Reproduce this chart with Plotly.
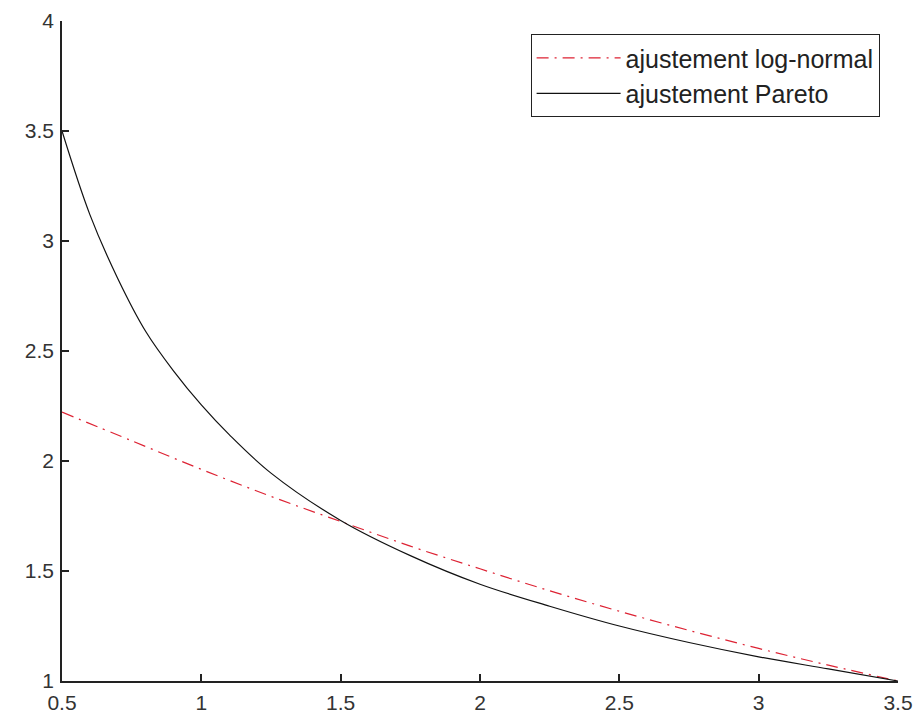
import plotly.graph_objects as go

# Log-normal fit
x_lognormal = [0.5, 0.75, 1.0, 1.25, 1.5, 1.75, 2.0, 2.25, 2.5, 2.75, 3.0, 3.25, 3.5]
y_lognormal = [2.222, 2.092, 1.962, 1.839, 1.725, 1.613, 1.510, 1.410, 1.317, 1.230, 1.148, 1.072, 1.0]

# Pareto fit
x_pareto = [0.5, 0.6, 0.7, 0.8, 0.9, 1.0, 1.1, 1.25, 1.5, 1.75, 2.0, 2.25, 2.5, 2.75, 3.0, 3.25, 3.5]
y_pareto = [3.5, 3.12, 2.83, 2.59, 2.41, 2.255, 2.12, 1.945, 1.73, 1.57, 1.44, 1.34, 1.25, 1.175, 1.11, 1.055, 1.0]

x_ticks = [0.5, 1, 1.5, 2, 2.5, 3, 3.5]
x_ticklabels = ["0.5", "1", "1.5", "2", "2.5", "3", "3.5"]
y_ticks = [1, 1.5, 2, 2.5, 3, 3.5, 4]
y_ticklabels = ["1", "1.5", "2", "2.5", "3", "3.5", "4"]

FONT = "Liberation Sans, Arial, sans-serif"

fig = go.Figure()
fig.add_trace(go.Scatter(
    x=x_lognormal, y=y_lognormal, mode="lines", name="ajustement log-normal",
    line=dict(color="#dd2233", width=1.2, dash="12px,6px,2px,6px", shape="spline"),
))
fig.add_trace(go.Scatter(
    x=x_pareto, y=y_pareto, mode="lines", name="ajustement Pareto",
    line=dict(color="#111111", width=1.2, shape="spline"),
))

axis_common = dict(
    showgrid=False, zeroline=False, showline=True, linecolor="#222222", linewidth=1.5,
    ticks="inside", ticklen=7, tickwidth=1.5, tickcolor="#222222",
    tickfont=dict(family=FONT, size=21, color="#333333"),
    mirror=False, automargin=False, ticklabelstandoff=2,
)
fig.update_xaxes(range=[0.5, 3.5], tickvals=x_ticks, ticktext=x_ticklabels, **axis_common)
fig.update_yaxes(range=[1, 4], tickvals=y_ticks, ticktext=y_ticklabels, **axis_common)

fig.update_layout(
    width=917, height=713,
    margin=dict(l=62, r=19, t=21, b=32),
    paper_bgcolor="white", plot_bgcolor="white",
    showlegend=True,
    legend=dict(
        x=0.978, y=0.98, xanchor="right", yanchor="top",
        bordercolor="#222222", borderwidth=1, bgcolor="white",
        font=dict(family=FONT, size=25, color="#222222"),
        itemwidth=84, tracegroupgap=0,
    ),
)

fig.write_html(
    "out.html",
    config={"displayModeBar": False},
    post_script="document.body.style.margin='0';document.body.style.overflow='hidden';",
)
